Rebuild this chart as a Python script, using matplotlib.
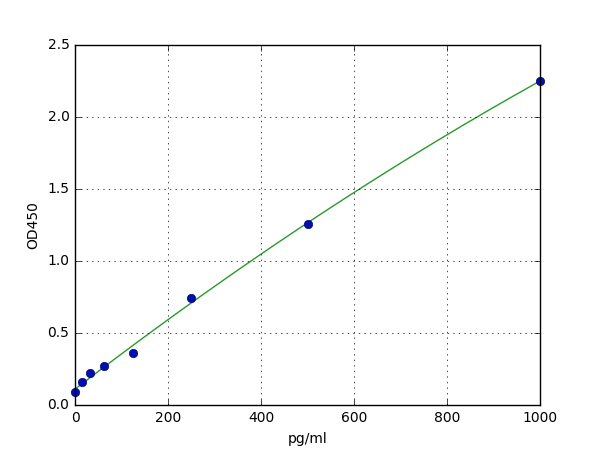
import matplotlib
matplotlib.use("Agg")
import matplotlib.pyplot as plt
import numpy as np

plt.style.use("classic")

# standard concentrations and measured optical density
conc = [0, 15.6, 31.25, 62.5, 125, 250, 500, 1000]
od450 = [0.09, 0.16, 0.22, 0.27, 0.36, 0.74, 1.26, 2.25]

# fitted standard curve (quadratic fit through the points)
coef = np.polyfit(conc, od450, 2)
xfit = np.linspace(0, 1000, 200)
yfit = np.polyval(coef, xfit)

fig, ax = plt.subplots(figsize=(6, 4.5), dpi=100)
fig.patch.set_facecolor("white")

ax.plot(xfit, yfit, color="#2a9a2a", linewidth=1)
ax.plot(conc, od450, "o", color="#0010b0", markeredgecolor="#000080",
        markersize=6, clip_on=False)

ax.set_xlim(0, 1000)
ax.set_ylim(0, 2.5)
ax.set_xlabel("pg/ml", fontsize=10)
ax.set_ylabel("OD450", fontsize=10)
ax.tick_params(labelsize=10)
ax.grid(True)

plt.savefig("out.png", dpi=100, facecolor="white")
